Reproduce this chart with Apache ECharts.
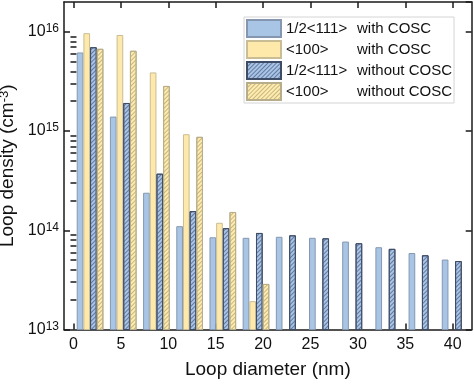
<!DOCTYPE html>
<html>
<head>
<meta charset="utf-8">
<script src="https://cdn.jsdelivr.net/npm/echarts@6/dist/echarts.min.js"></script>
<style>
html,body{margin:0;padding:0;background:#fff;}
#chart{width:474px;height:384px;}
</style>
</head>
<body>
<div id="chart"></div>
<script>
// ---- data ----
const diameters = [1.75, 5.25, 8.75, 12.25, 15.75, 19.25, 22.75, 26.25, 29.75, 33.25, 36.75, 40.25];
const seriesNames = ['1/2<111> with COSC', '<100> with COSC', '1/2<111> without COSC', '<100> without COSC'];
const half111With = [6.2e15, 1.4e15, 2.39e14, 1.1e14, 8.5e13, 8.4e13, 8.6e13, 8.4e13, 7.7e13, 6.75e13, 5.9e13, 5.07e13];
const l100With = [9.7e15, 9.3e15, 3.9e15, 9.3e14, 1.19e14, 1.93e13, null, null, null, null, null, null];
const half111Without = [7.0e15, 1.92e15, 3.72e14, 1.56e14, 1.05e14, 9.4e13, 8.9e13, 8.3e13, 7.4e13, 6.5e13, 5.6e13, 4.9e13];
const l100Without = [6.75e15, 6.45e15, 2.85e15, 8.75e14, 1.53e14, 2.88e13, null, null, null, null, null, null];
const xTicks = [0, 5, 10, 15, 20, 25, 30, 35, 40];
const yMin = 1e13, yMax = 2e16;

const FONT = "'Liberation Sans', Arial, Helvetica, sans-serif";
const pairs = vals => diameters.map((d, i) => vals[i] == null ? [d, '-'] : [d, vals[i]]);

// minor log tick positions (in log10 space) for overlay axes
const yMinLog = Math.log10(yMin), yMaxLog = Math.log10(yMax);
const minorTicks = [];
for (let n = 13; n <= 16; n++) {
  for (let k = 2; k <= 9; k++) {
    const v = Math.log10(k) + n;
    if (v < yMaxLog) minorTicks.push(v);
  }
}

const lineStyle = {color: '#1a1a1a', width: 1.5};
const supLabel = v => {
  const e = Math.log10(v);
  if (Math.abs(e - Math.round(e)) > 1e-6) return '';
  return '{b|10}{s|' + Math.round(e) + '}';
};

const hatch = (color) => ({
  symbol: 'rect', symbolSize: 1, dashArrayX: [1, 0], dashArrayY: [0.8, 2],
  rotation: -Math.PI / 4, color: color
});

const styles = [
  {color: '#a9c5e6', borderColor: '#8597b0', borderWidth: 1},
  {color: '#fee9aa', borderColor: '#c9bd95', borderWidth: 1},
  {color: '#a9c5e6', borderColor: '#3e4c66', borderWidth: 1, decal: hatch('#6478a0')},
  {color: '#fdecb2', borderColor: '#b8ad8a', borderWidth: 1, decal: hatch('#c9b67a')}
];
const values = [half111With, l100With, half111Without, l100Without];

const chart = echarts.init(document.getElementById('chart'), null, {renderer: 'canvas'});
chart.setOption({
  animation: false,
  backgroundColor: '#fff',
  aria: {enabled: false},
  grid: {left: 64, right: 2.3, top: 2, bottom: 54.5, containLabel: false, outerBoundsMode: 'none'},
  legend: {
    orient: 'vertical', left: 244, top: 17,
    itemWidth: 34, itemHeight: 17, itemGap: 2,
    padding: [2, 2, 2, 2],
    backgroundColor: '#fff', borderColor: '#d4d4d4', borderWidth: 1,
    icon: 'rect',
    data: seriesNames,
    formatter: name => {
      const i = name.indexOf(' ');
      return '{a|' + name.slice(0, i) + '}{c|' + name.slice(i + 1) + '}';
    },
    textStyle: {
      fontFamily: FONT, fontSize: 15, color: '#111',
      rich: {
        a: {fontFamily: FONT, fontSize: 15, color: '#111', width: 71, lineHeight: 17},
        c: {fontFamily: FONT, fontSize: 15, color: '#111', lineHeight: 17}
      }
    }
  },
  xAxis: [{
    type: 'value', min: -1, max: 42, position: 'bottom',
    name: 'Loop diameter (nm)', nameLocation: 'middle', nameGap: 31,
    nameTextStyle: {fontFamily: FONT, fontSize: 19, color: '#111'},
    axisLine: {show: true, onZero: false, lineStyle: lineStyle},
    axisTick: {show: true, inside: true, length: 6, lineStyle: lineStyle, customValues: xTicks},
    axisLabel: {show: true, fontFamily: FONT, fontSize: 16, color: '#111', margin: 7, customValues: xTicks},
    splitLine: {show: false}
  }, {
    type: 'value', min: -1, max: 42, position: 'top',
    axisLine: {show: true, onZero: false, lineStyle: lineStyle},
    axisTick: {show: true, inside: true, length: 6, lineStyle: lineStyle, customValues: xTicks},
    axisLabel: {show: false},
    splitLine: {show: false}
  }],
  yAxis: [{
    type: 'log', logBase: 10, min: yMin, max: yMax, position: 'left',
    name: '{t|Loop density (cm}{s|-3}{t|)}', nameLocation: 'middle', nameGap: 42,
    nameTextStyle: {
      fontFamily: FONT, fontSize: 19, color: '#111',
      rich: {
        t: {fontFamily: FONT, fontSize: 19, color: '#111', lineHeight: 20},
        s: {fontFamily: FONT, fontSize: 13, color: '#111', verticalAlign: 'top', lineHeight: 13}
      }
    },
    axisLine: {show: true, onZero: false, lineStyle: lineStyle},
    axisTick: {show: true, inside: true, length: 6, lineStyle: lineStyle},
    axisLabel: {
      show: true, margin: 5, formatter: supLabel, showMaxLabel: false,
      rich: {
        b: {fontFamily: FONT, fontSize: 16, color: '#111', lineHeight: 18},
        s: {fontFamily: FONT, fontSize: 12, color: '#111', verticalAlign: 'top', lineHeight: 12}
      }
    },
    splitLine: {show: false}, minorTick: {show: false}
  }, {
    type: 'value', min: yMinLog, max: yMaxLog, position: 'left',
    axisLine: {show: false},
    axisTick: {show: true, inside: true, length: 3, lineStyle: lineStyle, customValues: minorTicks},
    axisLabel: {show: false}, splitLine: {show: false}
  }, {
    type: 'log', logBase: 10, min: yMin, max: yMax, position: 'right',
    axisLine: {show: true, onZero: false, lineStyle: lineStyle},
    axisTick: {show: true, inside: true, length: 6, lineStyle: lineStyle},
    axisLabel: {show: false}, splitLine: {show: false}
  }, {
    type: 'value', min: yMinLog, max: yMaxLog, position: 'right',
    axisLine: {show: false},
    axisTick: {show: true, inside: true, length: 3, lineStyle: lineStyle, customValues: minorTicks},
    axisLabel: {show: false}, splitLine: {show: false}
  }],
  series: seriesNames.map((name, i) => ({
    name: name, type: 'bar', xAxisIndex: 0, yAxisIndex: 0,
    barWidth: 6.67, barGap: '0%',
    itemStyle: styles[i],
    data: pairs(values[i]),
    emphasis: {disabled: true}
  }))
});
</script>
</body>
</html>
